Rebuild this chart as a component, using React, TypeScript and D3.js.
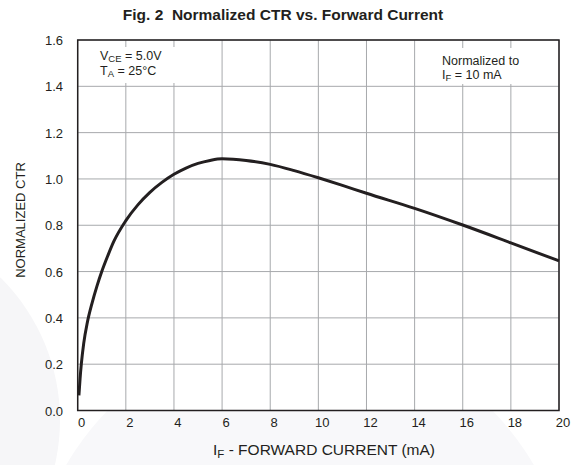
import React from 'react';
import * as d3 from 'd3';

// curve (IF in mA, normalized CTR)
const forwardCurrent = [0.05, 0.1, 0.15, 0.25, 0.4, 0.6, 0.8, 1.0, 1.25, 1.5, 2, 2.5, 3, 3.5, 4, 4.5, 5, 5.5, 6, 7, 8, 9, 10, 11, 12, 14, 16, 18, 20];
const normalizedCtr = [0.065, 0.14, 0.2, 0.29, 0.38, 0.465, 0.537, 0.6, 0.668, 0.73, 0.82, 0.888, 0.942, 0.985, 1.02, 1.047, 1.067, 1.08, 1.087, 1.08, 1.063, 1.036, 1.005, 0.972, 0.938, 0.873, 0.801, 0.724, 0.646];

const xTicks = [0, 2, 4, 6, 8, 10, 12, 14, 16, 18, 20];
const yTicks = [0, 0.2, 0.4, 0.6, 0.8, 1.0, 1.2, 1.4, 1.6];

const title = 'Fig. 2\u00a0\u00a0Normalized CTR vs. Forward Current';
const yTitle = 'NORMALIZED CTR';

const W = 579;
const H = 465;
const left = 77.7;
const right = 559;
const top = 40;
const bottom = 410.5;

const font = 'Liberation Sans, Arial, Helvetica, sans-serif';
const ink = '#231f20';
const gridColor = '#a7a9ac';

export default function App() {
  const x = d3.scaleLinear().domain([0, 20]).range([left, right]);
  const y = d3.scaleLinear().domain([0, 1.6]).range([bottom, top]);

  const pts: [number, number][] = forwardCurrent.map((f, i) => [f, normalizedCtr[i]]);
  const line = d3.line<[number, number]>()
    .x(d => x(d[0]))
    .y(d => y(d[1]))
    .curve(d3.curveMonotoneX);

  return (
    <svg width={W} height={H} style={{ position: 'absolute', left: 0, top: 0, background: '#fff' }} fontFamily={font}>
      {/* faint watermark shapes in background */}
      <circle cx={-140} cy={420} r={200} fill="#f6f6f8" />
      <circle cx={300} cy={600} r={270} fill="#f8f8fa" />

      <text x={283} y={19.5} textAnchor="middle" fontSize={15.5} fontWeight="bold" fill={ink}>{title}</text>

      <rect x={left} y={top} width={right - left} height={bottom - top} fill="#fff" />

      {xTicks.map(t => (
        <line key={'gx' + t} x1={x(t)} x2={x(t)} y1={top} y2={bottom} stroke={gridColor} strokeWidth={1} />
      ))}
      {yTicks.map(t => (
        <line key={'gy' + t} x1={left} x2={right} y1={y(t)} y2={y(t)} stroke={gridColor} strokeWidth={1} />
      ))}

      {/* annotation boxes hide grid */}
      <rect x={88} y={47} width={92} height={36} fill="#fff" />
      <rect x={436} y={48} width={96} height={36} fill="#fff" />

      <text x={100} y={60} fontSize={12.5} fill={ink}>
        V<tspan fontSize={9.5} dy={1.5}>CE</tspan><tspan dy={-1.5}> = 5.0V</tspan>
      </text>
      <text x={100} y={75} fontSize={12.5} fill={ink}>
        T<tspan fontSize={9.5} dy={1.5}>A</tspan><tspan dy={-1.5}> = 25°C</tspan>
      </text>
      <text x={442} y={65} fontSize={12.5} fill={ink}>Normalized to</text>
      <text x={442} y={79} fontSize={12.5} fill={ink}>
        I<tspan fontSize={9.5} dy={1.5}>F</tspan><tspan dy={-1.5}> = 10 mA</tspan>
      </text>

      <path d={line(pts) || ''} fill="none" stroke={ink} strokeWidth={3} strokeLinecap="butt" />

      <rect x={left} y={top} width={right - left} height={bottom - top} fill="none" stroke={ink} strokeWidth={1.5} />

      {xTicks.map(t => (
        <text key={'tx' + t} x={x(t) + 4} y={427} textAnchor="middle" fontSize={13} fill={ink}>{t}</text>
      ))}
      {yTicks.map(t => (
        <text key={'ty' + t} x={63} y={y(t) + 5} textAnchor="end" fontSize={13} fill={ink}>{t.toFixed(1)}</text>
      ))}

      <text x={324} y={455} textAnchor="middle" fontSize={15.5} fill={ink}>
        I<tspan fontSize={11.5} dy={2.5}>F</tspan><tspan dy={-2.5}> - FORWARD CURRENT (mA)</tspan>
      </text>
      <text transform={`translate(25, 220) rotate(-90)`} textAnchor="middle" fontSize={13} fill={ink}>{yTitle}</text>
    </svg>
  );
}
